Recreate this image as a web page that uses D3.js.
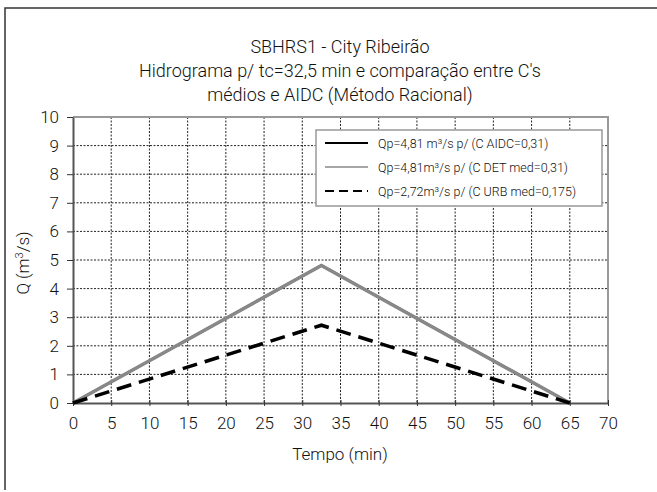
<!DOCTYPE html>
<html><head><meta charset="utf-8">
<script src="https://cdn.jsdelivr.net/npm/d3@7"></script>
<style>body{margin:0;background:#fff}svg{display:block}text{font-family:Roboto,"Liberation Sans",Arial,sans-serif;font-weight:300;fill:#111}</style>
</head><body>
<svg id="c" width="657" height="492"></svg>
<script>
const titleLines = ["SBHRS1 - City Ribeirão", "Hidrograma p/ tc=32,5 min e comparação entre C's", "médios e AIDC (Método Racional)"];
const time = [0, 32.5, 65];
const qAIDC = [0, 4.81, 0];
const qDET = [0, 4.81, 0];
const qURB = [0, 2.72, 0];
const seriesNames = ["Qp=4,81 m³/s p/ (C AIDC=0,31)", "Qp=4,81m³/s p/ (C DET med=0,31)", "Qp=2,72m³/s p/ (C URB med=0,175)"];
const xTicks = d3.range(0, 71, 5);
const yTicks = d3.range(0, 11, 1);

const svg = d3.select("#c");
const L = 73, R = 608, T = 117, B = 403;
const x = d3.scaleLinear().domain([0, 70]).range([L, R]);
const y = d3.scaleLinear().domain([0, 10]).range([B, T]);
const FF = 'Roboto,"Liberation Sans",Arial,sans-serif';

// outer border
svg.append("path").attr("d", "M5,490 V8 H657").attr("fill", "none").attr("stroke", "#333").attr("stroke-width", 1.5);

// title
titleLines.forEach((t, i) => svg.append("text").attr("x", 340).attr("y", 53 + i * 24).attr("text-anchor", "middle").attr("font-size", 18).text(t));

// grid
svg.append("g").selectAll("line").data(xTicks.slice(1, -1)).join("line")
  .attr("x1", d => x(d)).attr("x2", d => x(d)).attr("y1", T).attr("y2", B)
  .attr("stroke", "#222").attr("stroke-width", 1).attr("stroke-dasharray", "2,1.5");
svg.append("g").selectAll("line").data(yTicks.slice(1, -1)).join("line")
  .attr("x1", L).attr("x2", R).attr("y1", d => y(d)).attr("y2", d => y(d))
  .attr("stroke", "#222").attr("stroke-width", 1).attr("stroke-dasharray", "2,1.5");

// frame top/right
svg.append("path").attr("d", `M${L},${T} H${R} V${B}`).attr("fill", "none").attr("stroke", "#999").attr("stroke-width", 2);

// axes
const xa = svg.append("g").attr("transform", `translate(0,${B})`)
  .call(d3.axisBottom(x).tickValues(xTicks).tickSize(5).tickSizeOuter(0).tickPadding(9));
const ya = svg.append("g").attr("transform", `translate(${L},0)`)
  .call(d3.axisLeft(y).tickValues(yTicks).tickSize(6).tickSizeOuter(0).tickPadding(8));
[xa, ya].forEach(a => {
  a.select(".domain").attr("stroke", "#555").attr("stroke-width", 2);
  a.selectAll(".tick line").attr("stroke", "#333");
  a.selectAll("text").attr("font-size", 17).attr("fill", "#111").attr("font-family", FF).attr("font-weight", 300);
});
xa.selectAll(".tick line").attr("y1", -3).attr("y2", 3);

// axis titles
svg.append("text").attr("x", 340).attr("y", 460).attr("text-anchor", "middle").attr("font-size", 17).text("Tempo (min)");
svg.append("text").attr("transform", "translate(29,263) rotate(-90)").attr("text-anchor", "middle").attr("font-size", 17)
  .html('Q (m<tspan baseline-shift="super" font-size="11">3</tspan>/s)');

// lines
const pts = arr => time.map((t, i) => [t, arr[i]]);
const line = d3.line().x(d => x(d[0])).y(d => y(d[1]));
const styles = [
  {data: qAIDC, stroke: "#000", w: 2.5, dash: null},
  {data: qDET, stroke: "#888", w: 3.5, dash: null},
  {data: qURB, stroke: "#000", w: 3.5, dash: "15,8"}
];
styles.forEach(s => svg.append("path").attr("d", line(pts(s.data))).attr("fill", "none")
  .attr("stroke", s.stroke).attr("stroke-width", s.w).attr("stroke-dasharray", s.dash));

// legend
const lg = svg.append("g");
lg.append("rect").attr("x", 316).attr("y", 130).attr("width", 286).attr("height", 76)
  .attr("fill", "#fff").attr("stroke", "#999").attr("stroke-width", 1.5);
seriesNames.forEach((n, i) => {
  const yy = 143 + i * 24;
  lg.append("line").attr("x1", 325).attr("x2", 368).attr("y1", yy).attr("y2", yy)
    .attr("stroke", styles[i].stroke).attr("stroke-width", i === 1 ? 1.5 : 2).attr("stroke-dasharray", i === 2 ? "9,5" : null);
  lg.append("text").attr("x", 378).attr("y", yy + 4.5).attr("font-size", 12.5).text(n);
});
</script>
</body></html>
